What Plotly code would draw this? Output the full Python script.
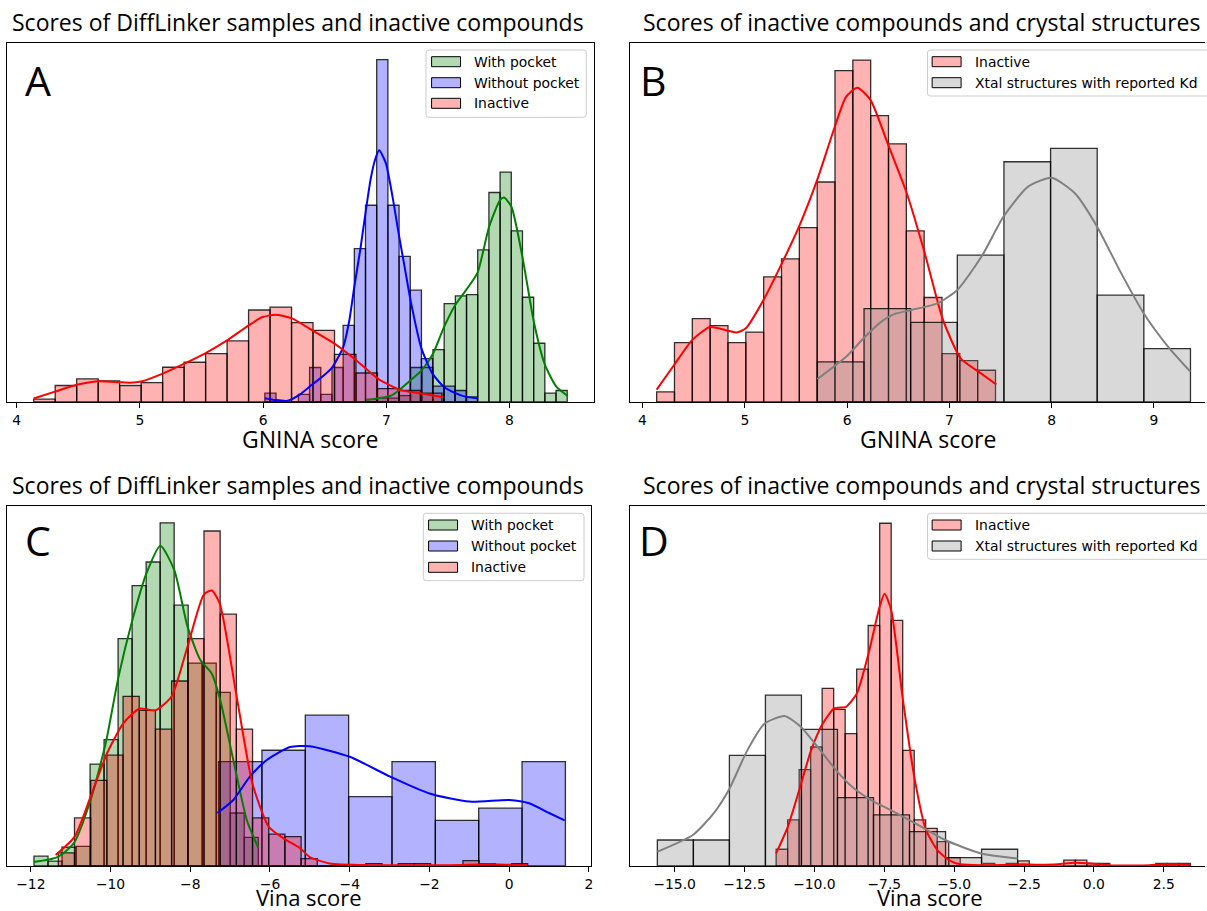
import plotly.graph_objects as go

W, H = 1207, 911

# ---------------- data (density) ----------------
# Panel A: GNINA score of DiffLinker samples and inactive compounds
a_with_start, a_with_width = 6.834, 0.0908
a_with_density = [0.02, 0.03, 0.03, 0.05, 0.27, 0.27, 0.41, 0.77, 0.83, 0.84,
                  1.19, 1.64, 1.80, 1.34, 0.82, 0.46, 0.07, 0.09]
a_with_kde_x = [6.834, 7.04, 7.10, 7.197, 7.288, 7.38, 7.47, 7.56, 7.65, 7.74,
                7.834, 7.923, 7.955, 8.015, 8.104, 8.199, 8.288, 8.38, 8.469]
a_with_kde_y = [0.015, 0.05, 0.09, 0.17, 0.25, 0.38, 0.59, 0.76, 0.88, 1.01,
                1.37, 1.58, 1.60, 1.53, 1.14, 0.62, 0.29, 0.12, 0.05]

a_without_start, a_without_width = 6.014, 0.0908
a_without_density = [0.07, 0.0, 0.0, 0.06, 0.27, 0.06, 0.27, 0.60, 1.20, 1.54,
                     2.68, 1.54, 1.14, 0.875, 0.34, 0.125, 0.125, 0.09, 0.04]
a_without_kde_x = [6.014, 6.10, 6.2, 6.30, 6.377, 6.47, 6.56, 6.65, 6.70, 6.74,
                   6.79, 6.834, 6.874, 6.91, 6.942, 6.996, 7.05, 7.10, 7.15, 7.2,
                   7.285, 7.376, 7.467, 7.56, 7.65, 7.739]
a_without_kde_y = [0.03, 0.015, 0.01, 0.06, 0.12, 0.19, 0.27, 0.43, 0.64, 0.90,
                   1.20, 1.50, 1.75, 1.90, 1.97, 1.87, 1.61, 1.32, 1.05, 0.78,
                   0.42, 0.22, 0.12, 0.07, 0.04, 0.03]

# Inactive compounds, GNINA score (panels A and B)
inact_gnina_start, inact_gnina_width = 4.138, 0.1744
inact_gnina_density = [0.022, 0.129, 0.181, 0.166, 0.129, 0.152, 0.272, 0.311, 0.379, 0.478,
                       0.720, 0.743, 0.622, 0.561, 0.372, 0.227, 0.105, 0.090, 0.069]
inact_gnina_kde_x = [4.138, 4.31, 4.487, 4.66, 4.835, 4.92, 5.01, 5.184, 5.36, 5.53, 5.707,
                     5.88, 5.99, 6.10, 6.23, 6.40, 6.585, 6.76, 6.937, 7.11, 7.285, 7.46]
inact_gnina_kde_y = [0.027, 0.081, 0.135, 0.163, 0.155, 0.151, 0.16, 0.222, 0.30, 0.381, 0.482,
                     0.598, 0.663, 0.683, 0.656, 0.56, 0.453, 0.323, 0.179, 0.095, 0.066, 0.038]

# Panel B: crystal structures, GNINA score
b_xtal_start, b_xtal_width = 5.71, 0.456
b_xtal_density = [0.087, 0.203, 0.173, 0.319, 0.522, 0.551, 0.232, 0.116]
b_xtal_kde_x = [5.71, 5.994, 6.164, 6.32, 6.45, 6.63, 6.89, 7.08, 7.315, 7.53, 7.77,
                8.0, 8.23, 8.445, 8.68, 8.9, 9.14, 9.357]
b_xtal_kde_y = [0.05, 0.099, 0.139, 0.172, 0.19, 0.20, 0.215, 0.244, 0.316, 0.403, 0.468,
                0.487, 0.453, 0.381, 0.28, 0.193, 0.12, 0.066]

# Panel C: Vina score
c_with_start, c_with_width = -11.92, 0.3516
c_with_density = [0.012, 0.006, 0.023, 0.024, 0.125, 0.155, 0.279, 0.344, 0.373, 0.421,
                  0.320, 0.249, 0.249, 0.213, 0.065, 0.035]
c_with_kde_x = [-11.92, -11.33, -10.92, -10.5, -10.12, -9.8, -9.45, -9.1, -8.75, -8.4,
                -8.07, -7.75, -7.46, -7.25, -6.92, -6.58, -6.29]
c_with_kde_y = [0.005, 0.011, 0.028, 0.081, 0.151, 0.232, 0.302, 0.359, 0.393, 0.363,
                0.294, 0.253, 0.236, 0.204, 0.130, 0.056, 0.022]

c_without_start, c_without_width = -7.29, 1.0875
c_without_density = [0.128, 0.142, 0.185, 0.085, 0.128, 0.056, 0.071, 0.128]
c_without_kde_x = [-7.32, -6.92, -6.5, -6.08, -5.5, -5.0, -4.0, -3.0, -2.0, -1.0,
                   0.0, 0.5, 1.0, 1.39]
c_without_kde_y = [0.065, 0.081, 0.110, 0.130, 0.146, 0.147, 0.134, 0.110, 0.089, 0.079,
                   0.081, 0.077, 0.065, 0.056]

c_inact_start, c_inact_width = -11.31, 0.406
c_inact_density = [0.016, 0.059, 0.105, 0.136, 0.208, 0.191, 0.168, 0.227, 0.279, 0.411,
                   0.309, 0.168, 0.059, 0.039, 0.036, 0.009, 0.0, 0.0, 0.0, 0.003,
                   0.0, 0.003, 0.003, 0.0, 0.0, 0.0065, 0.003, 0.0, 0.003]
c_inact_kde_x = [-11.375, -10.9, -10.5, -10.09, -9.68, -9.28, -8.87, -8.47, -8.07, -7.66,
                 -7.46, -7.26, -6.85, -6.44, -6.03, -5.63, -5.25, -5.0, -4.5, -3.5,
                 -2.5, -1.5, -0.5, 0.0, 0.46]
c_inact_kde_y = [0.0135, 0.036, 0.085, 0.138, 0.175, 0.193, 0.191, 0.208, 0.269, 0.333,
                 0.338, 0.322, 0.212, 0.101, 0.048, 0.033, 0.022, 0.011, 0.003, 0.001,
                 0.001, 0.001, 0.002, 0.0015, 0.001]

# Panel D: Vina score, inactive vs crystal structures
d_inact_start, d_inact_width = -11.37, 0.4117
d_inact_density = [0.020, 0.055, 0.115, 0.142, 0.212, 0.187, 0.158, 0.235, 0.287, 0.409,
                   0.293, 0.138, 0.055, 0.045, 0.029, 0.010, 0.0, 0.0, 0.003, 0.0,
                   0.003, 0.006, 0.0, 0.0, 0.0, 0.007, 0.007, 0.003, 0.003, 0.0,
                   0.0, 0.0, 0.0, 0.003, 0.003, 0.003]
d_inact_kde_x = [-11.37, -10.95, -10.54, -10.12, -9.70, -9.29, -8.87, -8.48, -8.06, -7.67,
                 -7.49, -7.25, -6.84, -6.43, -6.01, -5.60, -5.19, -4.78, -4.0, -3.0,
                 -2.6, -2.0, -1.3, -0.7, -0.1, 0.5, 1.0, 1.5, 2.0, 2.5, 3.0, 3.45]
d_inact_kde_y = [0.015, 0.047, 0.091, 0.138, 0.170, 0.188, 0.190, 0.206, 0.254, 0.309,
                 0.325, 0.305, 0.20, 0.107, 0.043, 0.019, 0.007, 0.002, 0.001, 0.0015,
                 0.002, 0.0015, 0.002, 0.004, 0.003, 0.001, 0.0005, 0.0005, 0.001, 0.002,
                 0.002, 0.0015]

d_xtal_start, d_xtal_width = -15.62, 1.289
d_xtal_density = [0.031, 0.031, 0.132, 0.204, 0.163, 0.0815, 0.061, 0.041, 0.010, 0.020]
d_xtal_kde_x = [-15.62, -14.35, -13.6, -13.06, -12.4, -11.78, -11.07, -10.48, -9.79, -9.19,
                -8.6, -7.89, -7.17, -6.5, -5.32, -4.04, -2.73]
d_xtal_kde_y = [0.017, 0.037, 0.063, 0.091, 0.138, 0.170, 0.179, 0.166, 0.138, 0.113,
                0.093, 0.077, 0.065, 0.053, 0.031, 0.015, 0.009]

# ---------------- styles ----------------
FILL = {"green": "rgba(0,128,0,0.3)", "blue": "rgba(0,0,255,0.3)",
        "red": "rgba(255,0,0,0.3)", "gray": "rgba(128,128,128,0.3)"}
LINE = {"green": "#008000", "blue": "#0000ff", "red": "#ff0000", "gray": "#808080"}
EDGE = "rgba(0,0,0,0.8)"
TICKFONT = dict(family="DejaVu Sans", size=13.9, color="black")
LABELFONT = "Open Sans"


def px(x):
    return x / W


def py(y):
    return 1 - y / H


fig = go.Figure()


def add_hist(start, width, dens, kx, ky, color, ax):
    xs = [start + width * (i + 0.5) for i in range(len(dens))]
    fig.add_trace(go.Bar(x=xs, y=dens, width=[width] * len(dens),
                         marker=dict(color=FILL[color], line=dict(color=EDGE, width=1.3)),
                         xaxis="x" + ax, yaxis="y" + ax, showlegend=False,
                         hoverinfo="skip"))
    fig.add_trace(go.Scatter(x=kx, y=ky, mode="lines",
                             line=dict(color=LINE[color], width=2, shape="spline", smoothing=0.6),
                             xaxis="x" + ax, yaxis="y" + ax, showlegend=False,
                             hoverinfo="skip"))


# Panel A (axis "")
add_hist(a_with_start, a_with_width, a_with_density, a_with_kde_x, a_with_kde_y, "green", "")
add_hist(a_without_start, a_without_width, a_without_density, a_without_kde_x, a_without_kde_y, "blue", "")
add_hist(inact_gnina_start, inact_gnina_width, inact_gnina_density, inact_gnina_kde_x, inact_gnina_kde_y, "red", "")
# Panel B (axis 2)
add_hist(inact_gnina_start, inact_gnina_width, inact_gnina_density, inact_gnina_kde_x, inact_gnina_kde_y, "red", "2")
add_hist(b_xtal_start, b_xtal_width, b_xtal_density, b_xtal_kde_x, b_xtal_kde_y, "gray", "2")
# Panel C (axis 3)
add_hist(c_with_start, c_with_width, c_with_density, c_with_kde_x, c_with_kde_y, "green", "3")
add_hist(c_without_start, c_without_width, c_without_density, c_without_kde_x, c_without_kde_y, "blue", "3")
add_hist(c_inact_start, c_inact_width, c_inact_density, c_inact_kde_x, c_inact_kde_y, "red", "3")
# Panel D (axis 4)
add_hist(d_inact_start, d_inact_width, d_inact_density, d_inact_kde_x, d_inact_kde_y, "red", "4")
add_hist(d_xtal_start, d_xtal_width, d_xtal_density, d_xtal_kde_x, d_xtal_kde_y, "gray", "4")


def xaxis(domain, rng, vals, texts, anchor, mirror):
    return dict(domain=domain, range=rng, anchor=anchor, showline=True, linecolor="black",
                linewidth=1, mirror=mirror, ticks="outside", ticklen=5, tickwidth=1,
                tickcolor="black", tickvals=vals, ticktext=texts, tickfont=TICKFONT,
                showgrid=False, zeroline=False, fixedrange=True)


def yaxis(domain, rng, anchor, mirror):
    return dict(domain=domain, range=rng, anchor=anchor, showline=True, linecolor="black",
                linewidth=1, mirror=mirror, ticks="", showticklabels=False,
                showgrid=False, zeroline=False, fixedrange=True)


top_dom = [py(402), py(43)]
bot_dom = [py(866), py(506)]
left_dom = [px(7), px(595)]
left_dom_c = [px(7.3), px(592.3)]
right_dom = [px(631), 1.0]

gnina_ticks_a = [4, 5, 6, 7, 8]
gnina_ticks_b = [4, 5, 6, 7, 8, 9]
vina_ticks_c = [-12, -10, -8, -6, -4, -2, 0, 2]
vina_ticks_d = [-15.0, -12.5, -10.0, -7.5, -5.0, -2.5, 0.0, 2.5]


def fmt(v, dec):
    s = f"{abs(v):.{dec}f}"
    return ("\u2212" + s) if v < 0 else s


fig.update_layout(
    width=W, height=H, margin=dict(l=0, r=0, t=0, b=0),
    paper_bgcolor="white", plot_bgcolor="white", barmode="overlay",
    xaxis=xaxis(left_dom, [3.921, 8.686], gnina_ticks_a, [fmt(v, 0) for v in gnina_ticks_a], "y", True),
    yaxis=yaxis(top_dom, [0, 2.81], "x", True),
    xaxis2=xaxis(right_dom, [3.877, 9.50], gnina_ticks_b, [fmt(v, 0) for v in gnina_ticks_b], "y2", True),
    yaxis2=yaxis(top_dom, [0, 0.780], "x2", False),
    xaxis3=xaxis(left_dom_c, [-12.59, 2.06], vina_ticks_c, [fmt(v, 0) for v in vina_ticks_c], "y3", True),
    yaxis3=yaxis(bot_dom, [0, 0.4417], "x3", True),
    xaxis4=xaxis(right_dom, [-16.6, 3.975], vina_ticks_d, [fmt(v, 1) for v in vina_ticks_d], "y4", True),
    yaxis4=yaxis(bot_dom, [0, 0.4296], "x4", False),
)

annotations = []
shapes = []


def text(x, y, s, size, anchor="center", family=LABELFONT, pad=1):
    annotations.append(dict(x=px(x), y=py(y), xref="paper", yref="paper", text=s,
                            showarrow=False, xanchor=anchor, yanchor="middle", borderpad=pad,
                            font=dict(family=family, size=size, color="black")))


# titles
text(298, 22, "Scores of DiffLinker samples and inactive compounds", 23)
text(923, 22, "Scores of inactive compounds and crystal structures", 23)
text(298, 485, "Scores of DiffLinker samples and inactive compounds", 23)
text(923, 485, "Scores of inactive compounds and crystal structures", 23)
# axis labels
text(311, 439, "GNINA score", 23)
text(930, 439, "GNINA score", 23)
text(310, 897, "Vina score", 22, pad=0)
text(932, 897, "Vina score", 22, pad=0)
# panel letters
text(38, 80, "A", 41)
text(655, 80, "B", 41)
text(38, 540, "C", 41)
text(655, 540, "D", 41)


def legend_box(x0, y0, x1, y1, r=3):
    path = (f"M {px(x0 + r)} {py(y0)} L {px(x1 - r)} {py(y0)} Q {px(x1)} {py(y0)} {px(x1)} {py(y0 + r)} "
            f"L {px(x1)} {py(y1 - r)} Q {px(x1)} {py(y1)} {px(x1 - r)} {py(y1)} "
            f"L {px(x0 + r)} {py(y1)} Q {px(x0)} {py(y1)} {px(x0)} {py(y1 - r)} "
            f"L {px(x0)} {py(y0 + r)} Q {px(x0)} {py(y0)} {px(x0 + r)} {py(y0)} Z")
    shapes.append(dict(type="path", path=path, xref="paper", yref="paper",
                       fillcolor="rgba(255,255,255,0.8)", line=dict(color="#cccccc", width=1)))


def legend_entry(px0, y, label, color, tx):
    shapes.append(dict(type="rect", xref="paper", yref="paper",
                       x0=px(px0), x1=px(px0 + 29), y0=py(y + 5), y1=py(y - 5),
                       fillcolor=FILL[color], line=dict(color="black", width=1)))
    text(tx, y, label, 13.9, anchor="left", family="DejaVu Sans")


# legend A
legend_box(426.7, 50, 587.3, 117.3)
legend_entry(432.3, 61.7, "With pocket", "green", 472.7)
legend_entry(432.3, 82.7, "Without pocket", "blue", 472.7)
legend_entry(432.3, 103.3, "Inactive", "red", 472.7)
# legend C
legend_box(424, 513.3, 585, 580.7)
legend_entry(429.3, 525, "With pocket", "green", 470)
legend_entry(429.3, 546, "Without pocket", "blue", 470)
legend_entry(429.3, 567.3, "Inactive", "red", 470)
# legend B
legend_box(929, 50, 1225, 96)
legend_entry(933.7, 61.7, "Inactive", "red", 975)
legend_entry(933.7, 82.7, "Xtal structures with reported Kd", "gray", 975)
# legend D
legend_box(929, 513.3, 1225, 559.3)
legend_entry(933.7, 525, "Inactive", "red", 975)
legend_entry(933.7, 546, "Xtal structures with reported Kd", "gray", 975)

fig.update_layout(annotations=annotations, shapes=shapes)
fig.write_html("out.html", config={"displayModeBar": False},
               post_script="document.body.style.margin='0px';")
